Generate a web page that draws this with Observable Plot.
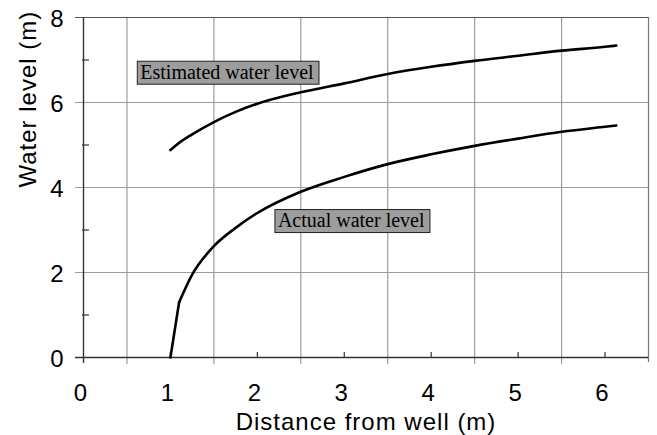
<!DOCTYPE html>
<html>
<head>
<meta charset="utf-8">
<script src="https://cdn.jsdelivr.net/npm/d3@7"></script>
<script src="https://cdn.jsdelivr.net/npm/@observablehq/plot@0.6"></script>
<style>
  body { margin: 0; background: #fff; }
  #chart svg { display: block; }
</style>
</head>
<body>
<div id="chart"></div>
<script>
// Distance from the well (m) and the water level at each distance (m)
const distance       = [1.0, 1.1, 1.25, 1.5, 1.75, 2.0, 2.5, 3.0, 3.5, 4.0, 4.5, 5.0, 5.5, 6.0, 6.13];
const estimatedLevel = [4.88, 5.05, 5.25, 5.54, 5.78, 5.97, 6.24, 6.45, 6.67, 6.84, 6.98, 7.10, 7.22, 7.31, 7.34];
const actualLevel    = [0.00, 1.30, 1.95, 2.62, 3.05, 3.40, 3.90, 4.25, 4.55, 4.78, 4.98, 5.15, 5.31, 5.43, 5.46];

// Axis ticks
const xTicks = [0, 1, 2, 3, 4, 5, 6];
const xGrid  = [0.5, 1.5, 2.5, 3.5, 4.5, 5.5];
const yTicks = [0, 2, 4, 6, 8];
const yGrid  = [2, 4, 6];
const yMinor = [1, 3, 5, 7];

// Curve labels
const noteText = ["Estimated water level", "Actual water level"];
const noteX    = [1.65, 3.08];
const noteY    = [6.71, 3.22];

const est = distance.map((x, i) => ({x, y: estimatedLevel[i]}));
const act = distance.map((x, i) => ({x, y: actualLevel[i]}));
const notes = noteText.map((text, i) => ({text, x: noteX[i], y: noteY[i]}));

const sans = "Arial, 'Liberation Sans', Helvetica, sans-serif";
const serif = "'Times New Roman', 'Liberation Serif', Times, serif";
const axisColor = "#333";
const gridColor = "#9c9c9c";

const chart = Plot.plot({
  width: 657,
  height: 435,
  marginLeft: 83,
  marginRight: 9,
  marginTop: 17,
  marginBottom: 78,
  style: {fontFamily: sans, fontSize: "24px", color: "#000", background: "#fff", overflow: "visible"},
  x: {domain: [0, 6.5]},
  y: {domain: [0, 8]},
  marks: [
    // grid: vertical lines at half units run a little below the axis
    Plot.ruleX(xGrid, {stroke: gridColor, strokeWidth: 1.2, insetBottom: -7}),
    Plot.ruleY(yGrid, {stroke: gridColor, strokeWidth: 1.2, insetLeft: -8}),
    // plot border
    Plot.ruleX([6.5], {stroke: "#777", strokeWidth: 1.2, insetBottom: -5}),
    Plot.ruleY([8], {stroke: "#555", strokeWidth: 1.2, insetLeft: -8}),
    Plot.ruleX([0], {stroke: axisColor, strokeWidth: 1.4, insetBottom: -6}),
    Plot.ruleY([0], {stroke: axisColor, strokeWidth: 1.4, insetLeft: -8}),
    // small inward ticks
    Plot.ruleX(xTicks.slice(1), {y1: 0, y2: 0, insetTop: -5, stroke: axisColor, strokeWidth: 1.2}),
    Plot.ruleY(yMinor, {x1: 0, x2: 0, insetLeft: -1, insetRight: -6, stroke: axisColor, strokeWidth: 1.2}),
    // tick labels
    Plot.axisX(xTicks, {tickSize: 0, tickPadding: 26, dx: -3, label: null, fill: "#000"}),
    Plot.axisY(yTicks, {tickSize: 0, tickPadding: 20, dy: 2, label: null, fill: "#000"}),
    // curves
    Plot.line(est, {x: "x", y: "y", curve: "monotone-x", stroke: "#000", strokeWidth: 2.6}),
    Plot.line(act.slice(0, 2), {x: "x", y: "y", curve: "linear", stroke: "#000", strokeWidth: 2.6}),
    Plot.line(act.slice(1), {x: "x", y: "y", curve: "monotone-x", stroke: "#000", strokeWidth: 2.6}),
    // curve labels
    Plot.text(notes, {x: "x", y: "y", text: "text", fontFamily: serif, fontSize: 20, fill: "#000", ariaDescription: "note"}),
    // axis titles
    Plot.text(["Distance from well (m)"], {frameAnchor: "bottom", dy: 72, fontSize: 24, fill: "#000", ariaDescription: "title"}),
    Plot.text(["Water level (m)"], {frameAnchor: "left", dx: -55, rotate: -90, fontSize: 24, fill: "#000", ariaDescription: "title"})
  ]
});

document.getElementById("chart").append(chart);

// wider tracking on the axis titles
chart.querySelectorAll('g[aria-description="title"] text').forEach(t => t.setAttribute("letter-spacing", "1"));

// grey boxes behind the curve labels
chart.querySelectorAll('g[aria-description="note"] text').forEach(t => {
  const b = t.getBBox();
  const r = document.createElementNS("http://www.w3.org/2000/svg", "rect");
  r.setAttribute("x", b.x - 3);
  r.setAttribute("y", b.y + 0.5);
  r.setAttribute("width", b.width + 8);
  r.setAttribute("height", b.height + 1);
  r.setAttribute("fill", "#9d9d9d");
  r.setAttribute("stroke", "#222");
  r.setAttribute("stroke-width", "1");
  const tr = t.getAttribute("transform");
  if (tr) r.setAttribute("transform", tr);
  t.parentNode.insertBefore(r, t);
});
</script>
</body>
</html>
